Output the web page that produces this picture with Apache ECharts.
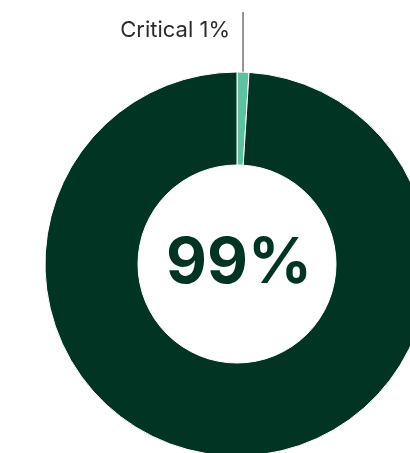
<!DOCTYPE html>
<html>
<head>
<meta charset="utf-8">
<title>Critical share</title>
<script src="https://cdn.jsdelivr.net/npm/echarts@6/dist/echarts.min.js"></script>
<style>
  html, body { margin: 0; padding: 0; background: #fff; }
  #container { width: 410px; height: 453px; }
</style>
</head>
<body>
<div id="container"></div>
<script>
// data
var names = ['Critical', 'Other'];
var values = [1, 99];
var colors = ['#5dc2a2', '#023424'];
var bigLabel = values[1] + '%';

var chart = echarts.init(document.getElementById('container'));

var data = names.map(function (n, i) {
  return {
    name: n,
    value: values[i],
    itemStyle: { color: colors[i] },
    label: { show: i === 0 },
    labelLine: { show: i === 0 }
  };
});

var option = {
  animation: false,
  graphic: [{
    type: 'text',
    x: 239,
    y: 264,
    style: {
      text: bigLabel,
      align: 'center',
      verticalAlign: 'middle',
      fill: '#023424',
      fontFamily: 'Inter',
      fontWeight: 'bold',
      fontSize: 63
    }
  }],
  series: [{
    type: 'pie',
    center: [237, 264],
    radius: [99, 192],
    startAngle: 90,
    clockwise: true,
    silent: true,
    itemStyle: { borderColor: '#fff', borderWidth: 1 },
    label: {
      position: 'outside',
      formatter: '{b} {c}%',
      fontFamily: 'Inter',
      fontSize: 22,
      fontWeight: 'normal',
      color: '#2b2b2b'
    },
    labelLine: {
      length: 60,
      length2: 0,
      lineStyle: { color: '#2b2b2b', width: 1 }
    },
    labelLayout: function (p) {
      var pts = p.labelLinePoints;
      if (!pts) return {};
      var x0 = pts[0][0];
      var y0 = pts[0][1] + 6;
      var top = y0 - 66;
      return {
        x: x0 - 13,
        y: top + 18,
        align: 'right',
        verticalAlign: 'middle',
        labelLinePoints: [[x0, y0], [x0, top], [x0, top]]
      };
    },
    data: data
  }]
};

chart.setOption(option);
</script>
</body>
</html>
